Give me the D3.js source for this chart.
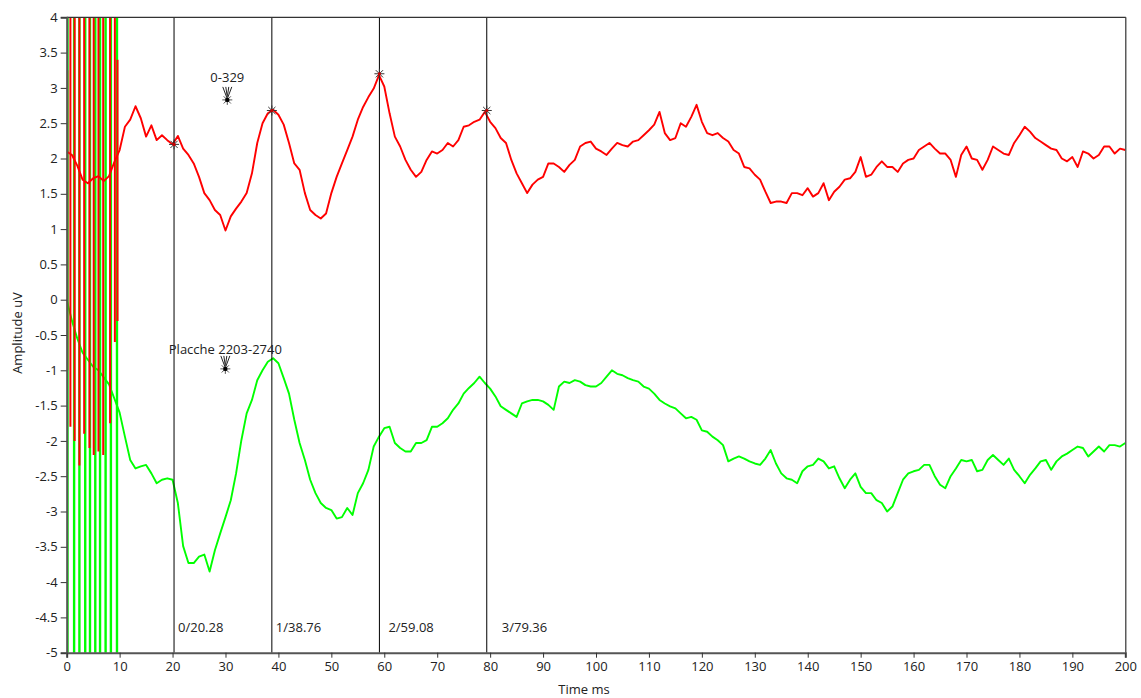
<!DOCTYPE html>
<html>
<head>
<meta charset="utf-8">
<script src="https://cdn.jsdelivr.net/npm/d3@7"></script>
<style>
  html, body { margin: 0; padding: 0; background: #ffffff; }
  svg { display: block; font-family: "Open Sans", "Noto Sans", sans-serif; }
</style>
</head>
<body>
<svg id="chart" width="1141" height="698"></svg>
<script>
// ---- data -------------------------------------------------------------
// sample times (ms) of the averaged traces
const timeMs = d3.range(0, 201);

// red trace (uV), one value per ms
const redTrace = [
  2.1, 2.05, 1.9, 1.7, 1.65, 1.72, 1.75, 1.68, 1.75, 1.95,
  2.12, 2.45, 2.55, 2.74, 2.57, 2.31, 2.47, 2.26, 2.33, 2.26,
  2.2, 2.32, 2.14, 2.05, 1.93, 1.74, 1.51, 1.41, 1.27, 1.2,
  0.98, 1.18, 1.29, 1.39, 1.51, 1.79, 2.22, 2.5, 2.64, 2.69,
  2.62, 2.48, 2.22, 1.93, 1.84, 1.51, 1.27, 1.2, 1.15, 1.22,
  1.51, 1.74, 1.93, 2.12, 2.31, 2.55, 2.73, 2.87, 2.99, 3.18,
  3.02, 2.64, 2.31, 2.17, 1.98, 1.84, 1.74, 1.81, 1.98, 2.1,
  2.07, 2.12, 2.22, 2.17, 2.26, 2.45, 2.47, 2.52, 2.55, 2.66,
  2.52, 2.43, 2.29, 2.22, 1.98, 1.79, 1.65, 1.51, 1.63, 1.7,
  1.74, 1.93, 1.93, 1.88, 1.81, 1.91, 1.98, 2.17, 2.22, 2.24,
  2.14, 2.1, 2.05, 2.14, 2.22, 2.19, 2.17, 2.24, 2.26, 2.33,
  2.4, 2.48, 2.66, 2.36, 2.26, 2.29, 2.5, 2.45, 2.59, 2.76,
  2.52, 2.36, 2.33, 2.36, 2.29, 2.24, 2.12, 2.07, 1.88, 1.86,
  1.77, 1.7, 1.53, 1.37, 1.39, 1.39, 1.37, 1.51, 1.51, 1.48,
  1.58, 1.46, 1.51, 1.65, 1.41, 1.53, 1.6, 1.7, 1.72, 1.81,
  2.02, 1.74, 1.77, 1.88, 1.96, 1.88, 1.88, 1.81, 1.93, 1.98,
  2.0, 2.12, 2.17, 2.22, 2.14, 2.07, 2.07, 1.98, 1.74, 2.05,
  2.17, 2.0, 1.98, 1.84, 1.98, 2.17, 2.12, 2.07, 2.05, 2.22,
  2.33, 2.45, 2.38, 2.29, 2.24, 2.19, 2.14, 2.12, 2.0, 1.96,
  2.02, 1.88, 2.1, 2.07, 2.0, 2.05, 2.17, 2.17, 2.07, 2.14,
  2.12
];

// green trace (uV), one value per ms
const greenTrace = [
  0.0, -0.3, -0.55, -0.75, -0.85, -0.95, -1.0, -1.1, -1.2, -1.4,
  -1.6, -1.94, -2.27, -2.39, -2.36, -2.34, -2.46, -2.6, -2.55, -2.53,
  -2.55, -2.88, -3.49, -3.73, -3.73, -3.64, -3.61, -3.85, -3.55, -3.31,
  -3.08, -2.84, -2.46, -1.99, -1.61, -1.42, -1.14, -1.0, -0.88, -0.83,
  -0.9, -1.11, -1.33, -1.7, -2.03, -2.27, -2.55, -2.74, -2.88, -2.95,
  -2.98, -3.1, -3.08, -2.95, -3.05, -2.74, -2.6, -2.41, -2.08, -1.94,
  -1.82, -1.8, -2.03, -2.1, -2.15, -2.15, -2.03, -2.03, -1.99, -1.8,
  -1.8, -1.75, -1.68, -1.56, -1.47, -1.33, -1.25, -1.18, -1.09, -1.18,
  -1.26, -1.37, -1.51, -1.56, -1.61, -1.66, -1.47, -1.44, -1.42, -1.42,
  -1.44, -1.49, -1.56, -1.23, -1.16, -1.18, -1.14, -1.16, -1.21, -1.23,
  -1.23, -1.18, -1.09, -1.0, -1.05, -1.07, -1.11, -1.14, -1.16, -1.23,
  -1.26, -1.33, -1.42, -1.47, -1.51, -1.54, -1.61, -1.68, -1.66, -1.7,
  -1.85, -1.87, -1.94, -1.99, -2.06, -2.29, -2.25, -2.22, -2.25, -2.29,
  -2.32, -2.34, -2.25, -2.13, -2.32, -2.46, -2.53, -2.55, -2.6, -2.43,
  -2.36, -2.34, -2.25, -2.29, -2.39, -2.36, -2.53, -2.67, -2.55, -2.46,
  -2.65, -2.74, -2.74, -2.84, -2.88, -3.0, -2.93, -2.74, -2.55, -2.46,
  -2.43, -2.41, -2.34, -2.34, -2.5, -2.62, -2.67, -2.5, -2.39, -2.27,
  -2.29, -2.27, -2.43, -2.41, -2.27, -2.2, -2.27, -2.34, -2.25, -2.41,
  -2.5, -2.6, -2.48, -2.39, -2.29, -2.27, -2.41, -2.29, -2.22, -2.18,
  -2.13, -2.08, -2.1, -2.22, -2.15, -2.08, -2.15, -2.06, -2.06, -2.08,
  -2.03
];

// stimulus artifact spikes during the first 10 ms
const redSpikeTimes = [0.1, 0.7, 1.5, 2.4, 3.3, 4.3, 5.1, 6.0, 6.9, 8.2, 9.1, 9.6];
const redSpikeHigh  = [3.25, 5, 5, 5, 5, 5, 5, 5, 5, 5, 5, 3.4];
const redSpikeLow   = [-1.0, -1.8, -2.0, -2.35, -1.9, -2.1, -2.2, -2.15, -2.2, -1.75, -0.6, -0.3];
const greenSpikeTimes = [0.15, 1.4, 2.4, 3.5, 4.4, 5.4, 6.3, 7.35, 8.35, 9.5];
const greenSpikeHigh  = [5, 5, 5, 5, 5, 5, 5, 5, 5, 5];
const greenSpikeLow   = [-6, -6, -6, -6, -6, -6, -6, -6, -6, -6];

// latency cursors
const cursorTimes  = [20.28, 38.76, 59.08, 79.36];
const cursorLabels = ["0/20.28", "1/38.76", "2/59.08", "3/79.36"];
const cursorRedValues = [2.2, 2.68, 3.2, 2.68];

// trace annotations
const noteLabels = ["0-329", "Placche 2203-2740"];
const noteTimes  = [30.34, 29.97];
const noteValues = [2.83, -0.98];

// axis ticks
const xTicks = d3.range(0, 201, 10);
const yTicks = [4, 3.5, 3, 2.5, 2, 1.5, 1, 0.5, 0, -0.5, -1, -1.5, -2, -2.5, -3, -3.5, -4, -4.5, -5];

// ---- drawing ----------------------------------------------------------
const svg = d3.select("#chart");
const plot = { left: 66.7, right: 1125.3, top: 17.3, bottom: 652.7 };
const fontSize = 13;
const textColor = "#222";

const x = d3.scaleLinear().domain([0, 200]).range([plot.left, plot.right]);
const y = d3.scaleLinear().domain([-5, 4]).range([plot.bottom, plot.top]);

svg.append("defs").append("clipPath").attr("id", "plotClip")
  .append("rect")
  .attr("x", plot.left).attr("y", plot.top)
  .attr("width", plot.right - plot.left).attr("height", plot.bottom - plot.top);

const traces = svg.append("g").attr("clip-path", "url(#plotClip)");

const line = d3.line()
  .x(d => x(d[0]))
  .y(d => y(d[1]));

const greenColor = "#00ff00";
const redColor = "#ff0000";

// green trace + its artifact spikes
traces.append("path")
  .datum(timeMs.map((t, i) => [t, greenTrace[i]]))
  .attr("fill", "none").attr("stroke", greenColor).attr("stroke-width", 1.9)
  .attr("stroke-linejoin", "round")
  .attr("d", line);
traces.selectAll(".gspike").data(greenSpikeTimes).join("line")
  .attr("class", "gspike")
  .attr("x1", d => x(d)).attr("x2", d => x(d))
  .attr("y1", (d, i) => y(greenSpikeHigh[i])).attr("y2", (d, i) => y(greenSpikeLow[i]))
  .attr("stroke", greenColor).attr("stroke-width", 2.4);

// red trace + its artifact spikes
traces.append("path")
  .datum(timeMs.map((t, i) => [t, redTrace[i]]))
  .attr("fill", "none").attr("stroke", redColor).attr("stroke-width", 1.9)
  .attr("stroke-linejoin", "round")
  .attr("d", line);
traces.selectAll(".rspike").data(redSpikeTimes).join("line")
  .attr("class", "rspike")
  .attr("x1", d => x(d)).attr("x2", d => x(d))
  .attr("y1", (d, i) => y(redSpikeHigh[i])).attr("y2", (d, i) => y(redSpikeLow[i]))
  .attr("stroke", redColor).attr("stroke-width", 2);

// cursor lines
svg.selectAll(".cursor").data(cursorTimes).join("line")
  .attr("class", "cursor")
  .attr("x1", d => x(d)).attr("x2", d => x(d))
  .attr("y1", plot.top).attr("y2", plot.bottom)
  .attr("stroke", "#000").attr("stroke-width", 1);

// cursor labels
const labelOffsets = [4, 4, 9, 15];
svg.selectAll(".clabel").data(cursorLabels).join("text")
  .attr("class", "clabel")
  .attr("x", (d, i) => x(cursorTimes[i]) + labelOffsets[i])
  .attr("y", 632)
  .attr("font-size", fontSize).attr("fill", textColor)
  .text(d => d);

// asterisk marker
function asterisk(g, cx, cy, r, color) {
  const a = g.append("g").attr("transform", `translate(${cx},${cy})`);
  const d = r * 0.72;
  a.append("path")
    .attr("d", `M${-r},0H${r}M0,${-r}V${r}M${-d},${-d}L${d},${d}M${-d},${d}L${d},${-d}`)
    .attr("stroke", color).attr("stroke-width", 1).attr("fill", "none");
  return a;
}

// cursor crossing markers on the red trace
cursorTimes.forEach((t, i) => {
  const m = asterisk(svg, x(t), y(cursorRedValues[i]), 5, "#333");
  m.append("circle").attr("r", 1.6).attr("fill", "#c00");
});

// annotation markers with arrow heads
const noteLift = [18, 15];
noteLabels.forEach((label, i) => {
  const px = x(noteTimes[i]), py = y(noteValues[i]);
  svg.append("text")
    .attr("x", px).attr("y", py - noteLift[i])
    .attr("text-anchor", "middle")
    .attr("font-size", fontSize).attr("fill", textColor)
    .text(label);
  svg.append("path")
    .attr("d", `M${px - 4.5},${py - 13}L${px},${py - 1}L${px + 4.5},${py - 13}` +
               `M${px - 1.5},${py - 13}L${px},${py - 3}L${px + 1.5},${py - 13}`)
    .attr("stroke", textColor).attr("stroke-width", 1).attr("fill", "none");
  const m = asterisk(svg, px, py, 5, "#555");
  m.append("circle").attr("r", 2.2).attr("fill", "#000");
});

// frame
svg.append("line")
  .attr("x1", plot.left).attr("x2", plot.right + 0.5)
  .attr("y1", plot.top).attr("y2", plot.top)
  .attr("stroke", "#333").attr("stroke-width", 1.2);
svg.append("line")
  .attr("x1", plot.right + 0.5).attr("x2", plot.right + 0.5)
  .attr("y1", plot.top).attr("y2", plot.bottom)
  .attr("stroke", "#333").attr("stroke-width", 1.2);

// axes
const yAxis = svg.append("g")
  .attr("transform", `translate(${plot.left},0)`)
  .call(d3.axisLeft(y).tickValues(yTicks).tickSize(6).tickPadding(3).tickFormat(d => String(d)));
const xAxis = svg.append("g")
  .attr("transform", `translate(0,${plot.bottom})`)
  .call(d3.axisBottom(x).tickValues(xTicks).tickSize(5).tickPadding(4).tickFormat(d => String(d)));

[yAxis, xAxis].forEach(ax => {
  ax.select(".domain").attr("stroke", "#555").attr("stroke-width", 2);
  ax.selectAll(".tick line").attr("stroke", "#333");
  ax.selectAll(".tick text")
    .attr("fill", textColor).attr("font-size", fontSize)
    .attr("font-family", "'Open Sans', 'Noto Sans', sans-serif");
});

// axis titles
svg.append("text")
  .attr("transform", `translate(22,333) rotate(-90)`)
  .attr("text-anchor", "middle")
  .attr("font-size", fontSize).attr("fill", textColor)
  .text("Amplitude uV");
svg.append("text")
  .attr("x", 584).attr("y", 694)
  .attr("text-anchor", "middle")
  .attr("font-size", fontSize).attr("fill", textColor)
  .text("Time ms");
</script>
</body>
</html>
